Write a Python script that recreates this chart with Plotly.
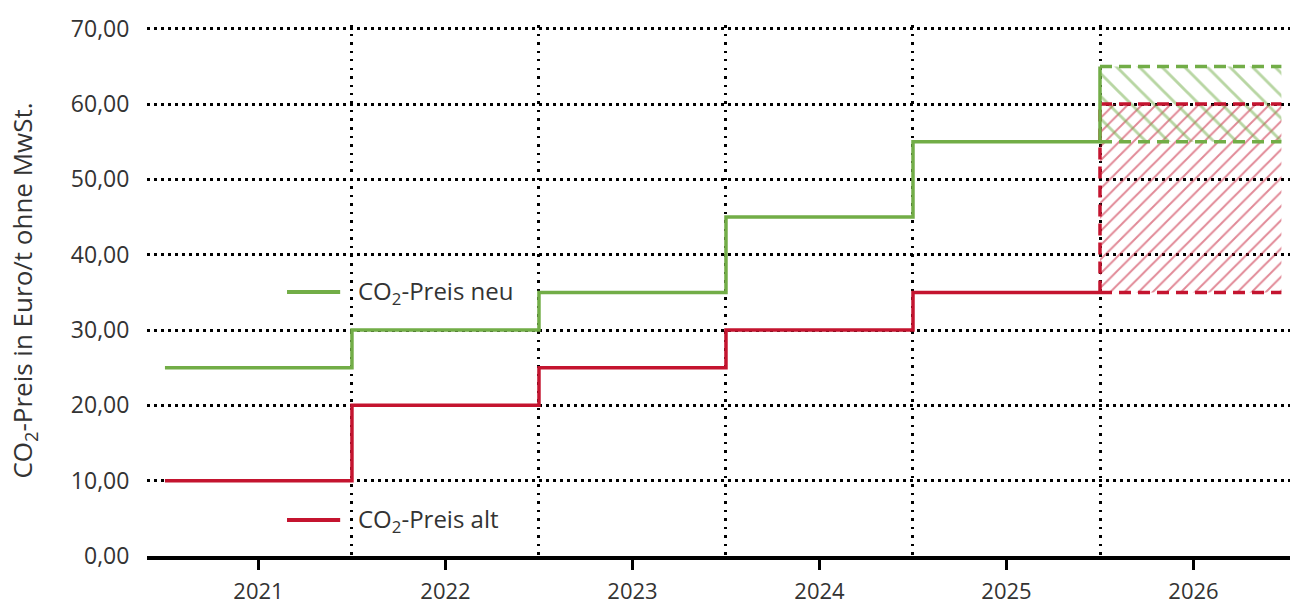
import plotly.graph_objects as go

# CO2 price per tonne (EUR, without VAT), by year
years = [2021, 2022, 2023, 2024, 2025]
preis_neu = [25, 30, 35, 45, 55]
preis_alt = [10, 20, 25, 30, 35]

# 2026: price corridor (min, max)
corridor_year = 2026
korridor_neu = [55, 65]
korridor_alt = [35, 60]

y_ticks = [0, 10, 20, 30, 40, 50, 60, 70]
y_ticktext = ["0,00", "10,00", "20,00", "30,00", "40,00", "50,00", "60,00", "70,00"]
x_ticks = years + [corridor_year]
x_ticktext = [str(y) for y in x_ticks]

GREEN = "#72ad47"
RED = "#c4142f"
FONT = "Open Sans"
TEXT = "#333333"

# step boundaries sit half a year before/after each label
def step_xy(vals):
    xs = [y - 0.5 for y in years] + [years[-1] + 0.5]
    ys = vals + [vals[-1]]
    return xs, ys

c0 = corridor_year - 0.5
c1 = corridor_year + 0.47

fig = go.Figure()

# hatched corridors
fig.add_trace(go.Scatter(
    x=[c0, c1, c1, c0, c0], y=[korridor_alt[0], korridor_alt[0], korridor_alt[1], korridor_alt[1], korridor_alt[0]],
    mode="lines", line=dict(width=0), fill="toself", fillcolor="rgba(0,0,0,0)",
    fillpattern=dict(shape="/", fgcolor=RED, bgcolor="rgba(0,0,0,0)", size=10, solidity=0.2),
    hoverinfo="skip", showlegend=False))
fig.add_trace(go.Scatter(
    x=[c0, c1, c1, c0, c0], y=[korridor_neu[0], korridor_neu[0], korridor_neu[1], korridor_neu[1], korridor_neu[0]],
    mode="lines", line=dict(width=0), fill="toself", fillcolor="rgba(0,0,0,0)",
    fillpattern=dict(shape="\\", fgcolor=GREEN, bgcolor="rgba(0,0,0,0)", size=16, solidity=0.18),
    hoverinfo="skip", showlegend=False))

# dashed corridor borders
dash = "12px,7px"
for lo_hi, col in ((korridor_alt, RED), (korridor_neu, GREEN)):
    for v in lo_hi:
        fig.add_trace(go.Scatter(x=[c0, c1], y=[v, v], mode="lines",
                                 line=dict(color=col, width=3.5, dash=dash),
                                 hoverinfo="skip", showlegend=False))
fig.add_trace(go.Scatter(x=[c0, c0], y=korridor_alt, mode="lines",
                         line=dict(color=RED, width=3.5, dash=dash),
                         hoverinfo="skip", showlegend=False))

# step lines
xs, ys = step_xy(preis_alt)
fig.add_trace(go.Scatter(x=xs, y=ys, mode="lines", line=dict(color=RED, width=3.5, shape="hv"),
                         name="CO2-Preis alt", showlegend=False))
xs, ys = step_xy(preis_neu)
xs = xs + [c0]
ys = ys + [korridor_neu[1]]
fig.add_trace(go.Scatter(x=xs, y=ys, mode="lines", line=dict(color=GREEN, width=3.5, shape="hv"),
                         name="CO2-Preis neu", showlegend=False))

# in-plot legend
legend_items = [("CO<sub>2</sub>-Preis neu", GREEN, 0.497), ("CO<sub>2</sub>-Preis alt", RED, 0.068)]
for label, col, yp in legend_items:
    fig.add_shape(type="line", xref="paper", yref="paper", x0=0.1225, x1=0.169, y0=yp, y1=yp,
                  line=dict(color=col, width=4))
    fig.add_annotation(xref="paper", yref="paper", x=0.183, y=yp, text=label, showarrow=False,
                       xanchor="left", yanchor="middle", font=dict(family=FONT, size=24, color=TEXT))

boundaries = [y + 0.5 for y in years]

fig.update_layout(
    width=1294, height=610,
    margin=dict(l=147, r=4, t=25, b=54),
    plot_bgcolor="white", paper_bgcolor="white",
    font=dict(family=FONT, size=23, color=TEXT),
    xaxis=dict(
        range=[2020.404, 2026.516], tickvals=x_ticks, ticktext=x_ticktext,
        automargin=False,
        showgrid=False, zeroline=False,
        showline=True, linecolor="black", linewidth=4,
        ticks="outside", ticklen=10, tickwidth=3, tickcolor="black",
        ticklabelstandoff=3,
        tickfont=dict(family=FONT, size=22, color=TEXT),
        minor=dict(tickvals=boundaries, showgrid=True, gridcolor="black", gridwidth=2.5,
                   griddash="2.5px,6px", ticks=""),
    ),
    yaxis=dict(
        range=[0, 70.5], tickvals=y_ticks, ticktext=y_ticktext,
        automargin=False,
        showgrid=True, gridcolor="black", gridwidth=2.5, griddash="2.5px,4.5px",
        zeroline=False, showline=False,
        ticks="outside", ticklen=12, tickcolor="rgba(0,0,0,0)",
        tickfont=dict(family=FONT, size=23, color=TEXT),
        title=dict(text="CO<sub>2</sub>-Preis in Euro/t ohne MwSt.", standoff=30,
                   font=dict(family=FONT, size=26, color=TEXT)),
    ),
)

fig.write_html("out.html")
